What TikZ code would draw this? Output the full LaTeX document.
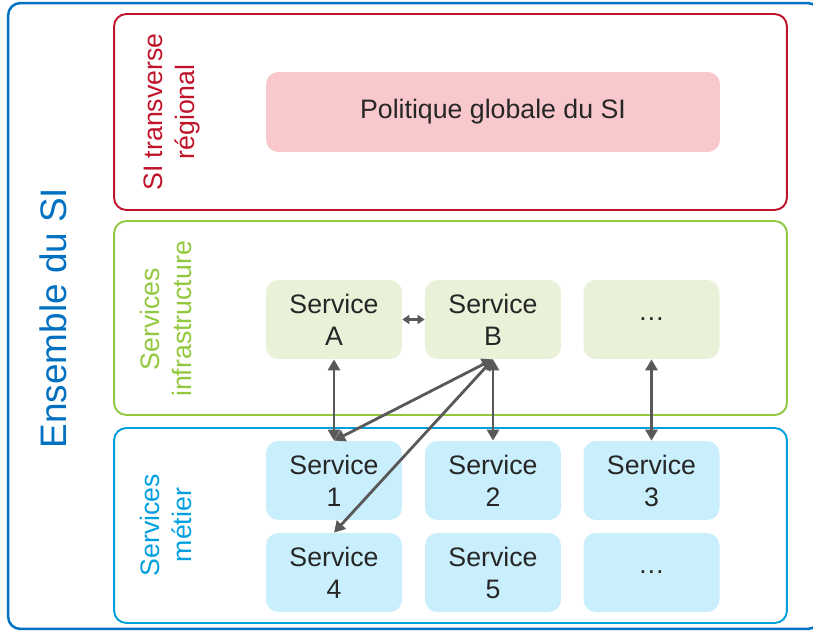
\documentclass[tikz,border=0pt]{standalone}
\usepackage{fontspec}
\setmainfont{Liberation Sans}
\usetikzlibrary{positioning,arrows.meta}
\definecolor{siblue}{HTML}{0070C0}
\definecolor{sired}{HTML}{C0142A}
\definecolor{sigreen}{HTML}{92C83E}
\definecolor{sicyan}{HTML}{00A0E0}
\definecolor{pinkfill}{HTML}{F8C8CC}
\definecolor{greenfill}{HTML}{EAF1D9}
\definecolor{cyanfill}{HTML}{C9EEFC}
\definecolor{arrowgray}{HTML}{595959}
\definecolor{textgray}{HTML}{262626}

\begin{document}
\begin{tikzpicture}[x=0.02cm,y=-0.02cm]
            \clip (0,0) rectangle (813,631);

            % layers
            \begin{scope}[every node/.style={rectangle,rounded corners=7pt,line width=1.1pt,
                          minimum width=13.46cm,inner sep=0pt}]
                \node[draw=siblue,line width=1.4pt,minimum width=16.24cm,minimum height=12.52cm] (ensemble) at (414,316) {};
                \node[draw=sired,minimum height=3.92cm] (transv) at (450.5,112) {};
                \node[draw=sigreen,minimum height=3.88cm] (infra) at (450.5,318) {};
                \node[draw=sicyan,minimum height=3.9cm] (metier) at (450.5,525.5) {};
            \end{scope}

            % layer titles
            \begin{scope}[every node/.style={rotate=90,align=center,
                          font=\fontsize{15.2}{18.2}\selectfont}]
                \node[siblue,font=\fontsize{21}{25}\selectfont] (ttlens) at (53,318) {Ensemble du SI};
                \node[sired] (ttltransv) at (172,112) {SI transverse\\régional};
                \node[sigreen] (ttlinfra) at (166,319) {Services\\infrastructure};
                \node[sicyan] (ttlmetier) at (166,525) {Services\\métier};
            \end{scope}

            % services
            \begin{scope}[every node/.style={rectangle,rounded corners=7pt,align=center,
                          minimum width=2.72cm,minimum height=1.58cm,inner sep=0pt,text=textgray,
                          font=\fontsize{15.2}{18.2}\selectfont}]
                \node[fill=pinkfill,minimum width=9.08cm,minimum height=1.6cm] (pol) at (493,112) {Politique globale du SI};
                \node[fill=greenfill] (sa) at (334,319.5) {Service\\A};
                \node[fill=greenfill] (sb) at (493,319.5) {Service\\B};
                \node[fill=greenfill] (sx) at (651.5,319.5) {\dots};
                \node[fill=cyanfill] (s1) at (334,480.5) {Service\\1};
                \node[fill=cyanfill] (s2) at (493,480.5) {Service\\2};
                \node[fill=cyanfill] (s3) at (651.5,480.5) {Service\\3};
                \node[fill=cyanfill] (s4) at (334,572.5) {Service\\4};
                \node[fill=cyanfill] (s5) at (493,572.5) {Service\\5};
                \node[fill=cyanfill] (sy) at (651.5,572.5) {\dots};
            \end{scope}

            \begin{scope}[>={Triangle[length=0.22cm,width=0.24cm]},
                          every edge/.style={draw=arrowgray,line width=1.6pt}]
                \path [{Triangle[length=0.14cm,width=0.18cm]}-{Triangle[length=0.14cm,width=0.18cm]}] (sa) edge (sb);
                \path [<->] (sa) edge (s1);
                \path [<->] (sb) edge (s2);
                \path [<->] (sx) edge (s3);
                \path [<->] (sb.south) edge (s1.north);
                \path [<->] (sb.south) edge (s4.north);
            \end{scope}
        \end{tikzpicture}
\end{document}
